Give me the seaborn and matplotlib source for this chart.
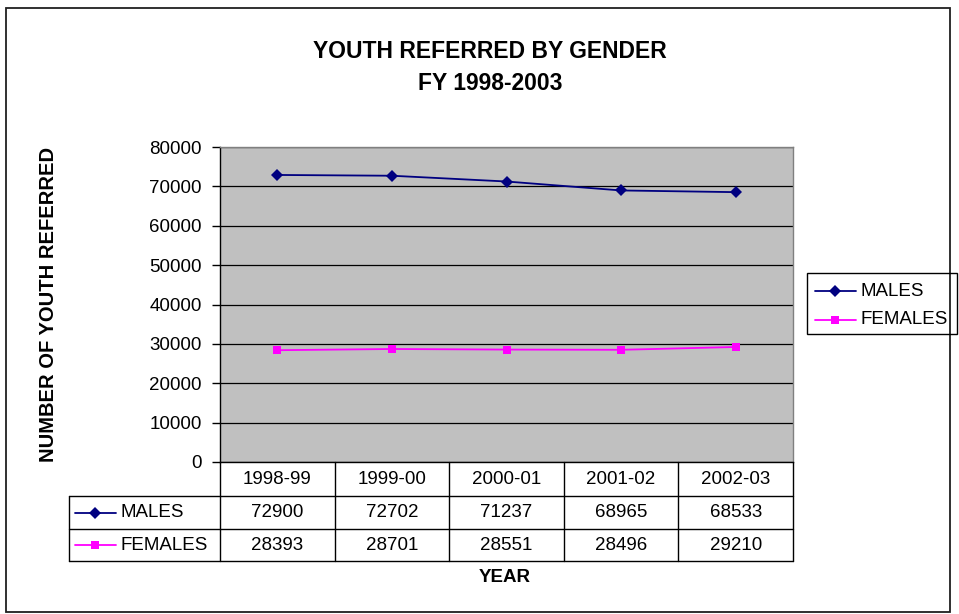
import matplotlib
matplotlib.use("Agg")
import matplotlib.pyplot as plt
from matplotlib.lines import Line2D
from matplotlib.patches import Rectangle
import pandas as pd
import seaborn as sns

# data
years = ["1998-99", "1999-00", "2000-01", "2001-02", "2002-03"]
males = [72900, 72702, 71237, 68965, 68533]
females = [28393, 28701, 28551, 28496, 29210]

sns.set_theme(style="white")
plt.rcParams['font.family'] = ['Liberation Sans', 'DejaVu Sans']
plt.rcParams['text.color'] = 'black'
plt.rcParams['ytick.color'] = 'black'
plt.rcParams['xtick.color'] = 'black'

W, H = 959, 614
fig = plt.figure(figsize=(W / 100, H / 100), dpi=100)


def fx(px):
    return px / W


def fy(py):
    return 1 - py / H


# plot area in pixels
L, R, T, B = 220, 793, 147, 462
ax = fig.add_axes([fx(L), fy(B), fx(R) - fx(L), fy(T) - fy(B)])
ax.set_facecolor("#C0C0C0")

df = pd.DataFrame({"pos": list(range(len(years))) * 2,
                   "value": males + females,
                   "series": ["MALES"] * len(years) + ["FEMALES"] * len(years)})
palette = {"MALES": "#000080", "FEMALES": "#FF00FF"}
sns.lineplot(data=df, x="pos", y="value", hue="series", style="series",
             markers={"MALES": "D", "FEMALES": "s"}, dashes=False,
             palette=palette, markersize=6, linewidth=1.3,
             markeredgewidth=0, legend=False, ax=ax, zorder=3)

ax.set_xlim(-0.5, len(years) - 0.5)
ax.set_ylim(0, 80000)
ax.set_yticks(range(0, 80001, 10000))
ax.set_yticklabels([str(v) for v in range(0, 80001, 10000)], fontsize=13.5, color="black")
ax.set_xticks([])
ax.set_xlabel("")
ax.set_ylabel("")
ax.yaxis.grid(True, color="black", linewidth=0.9)
ax.set_axisbelow(True)
ax.tick_params(axis="y", which="both", left=True, length=6, width=1, color="black", pad=7)
for s in ["top", "right"]:
    ax.spines[s].set_color("#808080")
for s in ["left", "bottom"]:
    ax.spines[s].set_color("black")
for s in ax.spines.values():
    s.set_linewidth(1)

# outer border
fig.add_artist(Rectangle((fx(6), fy(612)), fx(950) - fx(6), fy(8) - fy(612),
                         fill=False, edgecolor="#202020", linewidth=1.3,
                         transform=fig.transFigure))

# title
fig.text(fx(490), fy(51), "YOUTH REFERRED BY GENDER", ha="center", va="center",
         fontsize=16.5, fontweight="bold")
fig.text(fx(490), fy(84), "FY 1998-2003", ha="center", va="center",
         fontsize=16.5, fontweight="bold")

# axis titles
fig.text(fx(49), fy(304), "NUMBER OF YOUTH REFERRED", rotation=90, ha="center",
         va="center", fontsize=14.5, fontweight="bold")
fig.text(fx(505), fy(578), "YEAR", ha="center", va="center",
         fontsize=13.5, fontweight="bold")

# data table
TL = 69
rows = [462, 496, 529, 561]
cw = (R - L) / len(years)


def hline(y, x0, x1):
    fig.add_artist(Line2D([fx(x0), fx(x1)], [fy(y), fy(y)], color="black",
                          linewidth=1, transform=fig.transFigure))


def vline(x, y0, y1):
    fig.add_artist(Line2D([fx(x), fx(x)], [fy(y0), fy(y1)], color="black",
                          linewidth=1, transform=fig.transFigure))


for y in rows[1:]:
    hline(y, TL, R)
for i in range(len(years) + 1):
    vline(L + i * cw, rows[0], rows[3])
vline(TL, rows[1], rows[3])

for i, yr in enumerate(years):
    cx = L + (i + 0.5) * cw
    fig.text(fx(cx), fy((rows[0] + rows[1]) / 2), yr, ha="center", va="center", fontsize=13.5)
    fig.text(fx(cx), fy((rows[1] + rows[2]) / 2), str(males[i]), ha="center", va="center", fontsize=13.5)
    fig.text(fx(cx), fy((rows[2] + rows[3]) / 2), str(females[i]), ha="center", va="center", fontsize=13.5)


def key(x0, y, name, marker):
    fig.add_artist(Line2D([fx(x0), fx(x0 + 41)], [fy(y), fy(y)], color=palette[name],
                          linewidth=1.3, transform=fig.transFigure))
    fig.add_artist(Line2D([fx(x0 + 20)], [fy(y)], color=palette[name], marker=marker,
                          markersize=6, markeredgewidth=0, transform=fig.transFigure))
    fig.text(fx(x0 + 45), fy(y), name, ha="left", va="center", fontsize=13.5)


key(75, (rows[1] + rows[2]) / 2, "MALES", "D")
key(75, (rows[2] + rows[3]) / 2, "FEMALES", "s")

# legend box
fig.add_artist(Rectangle((fx(807), fy(334)), fx(957) - fx(807), fy(273) - fy(334),
                         fill=False, edgecolor="black", linewidth=1,
                         transform=fig.transFigure))
key(815, 291, "MALES", "D")
key(815, 320, "FEMALES", "s")

fig.savefig("out.png", dpi=100)
